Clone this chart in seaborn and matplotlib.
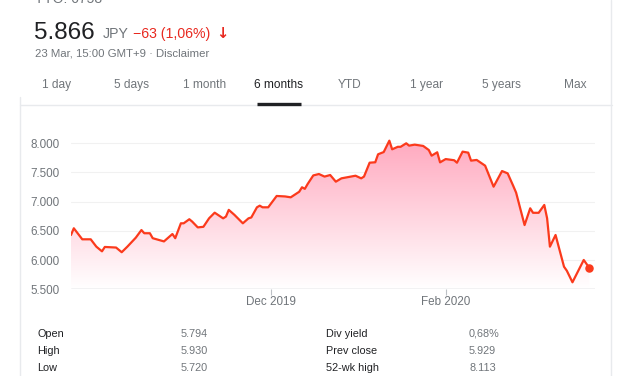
import pandas as pd
import numpy as np
import matplotlib
matplotlib.use('Agg')
import matplotlib.pyplot as plt
import matplotlib.dates as mdates
from matplotlib.colors import LinearSegmentedColormap
import seaborn as sns

W, H = 627, 376

DATES = [
    '2019-09-21', '2019-09-22', '2019-09-25', '2019-09-28', '2019-09-30',
    '2019-10-02', '2019-10-03', '2019-10-07', '2019-10-09', '2019-10-11',
    '2019-10-14', '2019-10-16', '2019-10-17', '2019-10-19', '2019-10-20',
    '2019-10-24', '2019-10-27', '2019-10-28', '2019-10-30', '2019-10-31',
    '2019-11-02', '2019-11-03', '2019-11-05', '2019-11-07', '2019-11-09',
    '2019-11-11', '2019-11-14', '2019-11-15', '2019-11-16', '2019-11-18',
    '2019-11-21', '2019-11-23', '2019-11-24', '2019-11-26', '2019-11-27',
    '2019-11-28', '2019-11-30', '2019-12-03', '2019-12-06', '2019-12-08',
    '2019-12-11', '2019-12-12', '2019-12-13', '2019-12-14', '2019-12-16',
    '2019-12-18', '2019-12-20', '2019-12-22', '2019-12-24', '2019-12-26',
    '2019-12-31', '2020-01-02', '2020-01-03', '2020-01-05', '2020-01-07',
    '2020-01-08', '2020-01-10', '2020-01-12', '2020-01-13', '2020-01-15',
    '2020-01-16', '2020-01-18', '2020-01-19', '2020-01-21', '2020-01-24',
    '2020-01-26', '2020-01-27', '2020-01-29', '2020-01-30', '2020-02-01',
    '2020-02-04', '2020-02-05', '2020-02-07', '2020-02-09', '2020-02-10',
    '2020-02-12', '2020-02-15', '2020-02-18', '2020-02-21', '2020-02-23',
    '2020-02-25', '2020-02-26', '2020-02-29', '2020-03-02', '2020-03-03',
    '2020-03-05', '2020-03-07', '2020-03-08', '2020-03-09', '2020-03-11',
    '2020-03-14', '2020-03-15', '2020-03-17', '2020-03-21', '2020-03-23',
]
PRICES = [
    6430, 6545, 6356, 6356, 6230, 6150, 6225, 6215, 6135, 6230,
    6384, 6515, 6460, 6460, 6375, 6320, 6447, 6375, 6630, 6630,
    6700, 6660, 6560, 6570, 6715, 6812, 6715, 6745, 6860, 6775,
    6630, 6715, 6730, 6904, 6932, 6904, 6904, 7098, 7090, 7075,
    7170, 7247, 7220, 7303, 7450, 7474, 7430, 7457, 7343, 7400,
    7445, 7400, 7430, 7668, 7675, 7812, 7850, 8045, 7897, 7940,
    7940, 8000, 7960, 7977, 7955, 7885, 7788, 7846, 7674, 7730,
    7710, 7668, 7857, 7840, 7703, 7715, 7617, 7257, 7525, 7485,
    7268, 7155, 6600, 6887, 6810, 6810, 6944, 6716, 6230, 6430,
    5887, 5818, 5620, 6002, 5866,
]

Y_TICKS = [5500, 6000, 6500, 7000, 7500, 8000]
X_TICKS = ['2019-12-01', '2020-02-01']
X_TICK_LABELS = ['Dec 2019', 'Feb 2020']

TABS = ['1 day', '5 days', '1 month', '6 months', 'YTD', '1 year', '5 years', 'Max']
TAB_X = [57, 131, 205, 279, 350, 427, 501, 575]
ACTIVE_TAB = '6 months'

STATS_LEFT = [('Open', '5.794'), ('High', '5.930'), ('Low', '5.720')]
STATS_RIGHT = [('Div yield', '0,68%'), ('Prev close', '5.929'), ('52-wk high', '8.113')]

RED = '#e8281f'
LINE = '#fb3a1c'
GRAY = '#70757a'
DARK = '#202124'

df = pd.DataFrame({'date': pd.to_datetime(DATES), 'price': PRICES})

sns.set_theme(style='white')
plt.rcParams['font.family'] = ['Liberation Sans', 'DejaVu Sans']

fig = plt.figure(figsize=(W / 100, H / 100), dpi=100)
fig.patch.set_facecolor('white')


def fx(px):
    return px / W


def fy(py):
    return 1 - py / H


# chart area: x 71..595 px, y 5500 at 289.3 px, 8250 at 128.7 px
ax = fig.add_axes([fx(71), fy(289.3), fx(595 - 71), (289.3 - 128.7) / H])
ax.set_xlim(pd.Timestamp('2019-09-21'), pd.Timestamp('2020-03-25'))
ax.set_ylim(5500, 8250)

# gradient fill below the line
pink = LinearSegmentedColormap.from_list('pink', ['#ffffff', '#ffa9bf'])
x0, x1 = mdates.date2num(ax.get_xlim()[0]), mdates.date2num(ax.get_xlim()[1])
x0, x1 = ax.get_xlim()
grad = np.linspace(0, 1, 256).reshape(-1, 1)
img = ax.imshow(grad, extent=[x0, x1, 5500, 8045], origin='lower', cmap=pink,
                aspect='auto', zorder=1)
poly = ax.fill_between(df['date'], df['price'], 5500, facecolor='none',
                       edgecolor='none')
img.set_clip_path(poly.get_paths()[0], transform=ax.transData)
ax.set_xlim(x0, x1)
ax.set_ylim(5500, 8250)

sns.lineplot(data=df, x='date', y='price', color=LINE, linewidth=1.6, ax=ax,
             zorder=3)
ax.scatter(df['date'].iloc[-1:], df['price'].iloc[-1:], s=26, color=LINE,
           zorder=4)

for y in Y_TICKS[1:]:
    ax.axhline(y, color='#f1f1f1', linewidth=0.8, zorder=0)
ax.axhline(5500, color='#bdc1c6', linewidth=1.0, zorder=2)

ax.set_yticks(Y_TICKS)
ax.set_yticklabels([f'{v // 1000}.{v % 1000:03d}' for v in Y_TICKS])
ax.set_xticks(pd.to_datetime(X_TICKS))
ax.set_xticklabels(X_TICK_LABELS)
ax.tick_params(axis='y', length=0, pad=8, labelsize=8.4, labelcolor=GRAY)
ax.tick_params(axis='x', length=4, width=0.8, color='#bdc1c6', pad=1,
               labelsize=8.4, labelcolor=GRAY, bottom=True)
ax.set_xlabel('')
ax.set_ylabel('')
for s in ax.spines.values():
    s.set_visible(False)
ax.grid(False)

# header
fig.text(fx(35), fy(3), 'TYO: 6758', fontsize=10, color=GRAY, va='baseline')
fig.text(fx(34), fy(39), '5.866', fontsize=17.5, color=DARK, va='baseline')
fig.text(fx(103), fy(38), 'JPY', fontsize=10.2, color=GRAY, va='baseline')
fig.text(fx(133), fy(38), '\u221263 (1,06%)', fontsize=10.2, color=RED,
         va='baseline')
fig.text(fx(216), fy(38), '\u2193', fontsize=10.5, color=RED, va='baseline',
         fontweight='bold', family=['DejaVu Sans'])
fig.text(fx(35), fy(56), '23 Mar, 15:00 GMT+9 \u00b7 Disclaimer', fontsize=8.2,
         color=GRAY, va='baseline')

# tabs
for name, x in zip(TABS, TAB_X):
    active = name == ACTIVE_TAB
    fig.text(fx(x), fy(88), name, fontsize=8.6, ha='center', va='baseline',
             color=DARK if active else GRAY)
fig.add_artist(plt.Line2D([fx(20), fx(612)], [fy(105), fy(105)],
                          color='#e8eaed', linewidth=1))
fig.add_artist(plt.Line2D([fx(257), fx(301)], [fy(104), fy(104)],
                          color=DARK, linewidth=2.4, solid_capstyle='butt'))

# card borders
fig.add_artist(plt.Line2D([fx(20), fx(20)], [fy(97), fy(376)],
                          color='#e8eaed', linewidth=1))
fig.add_artist(plt.Line2D([fx(611), fx(611)], [fy(0), fy(376)],
                          color='#e8eaed', linewidth=1))

# stats table
for i, ((l1, v1), (l2, v2)) in enumerate(zip(STATS_LEFT, STATS_RIGHT)):
    yy = fy(337 + i * 17)
    fig.text(fx(37), yy, l1, fontsize=7.8, color=DARK, va='baseline')
    fig.text(fx(181), yy, v1, fontsize=7.8, color=GRAY, va='baseline')
    fig.text(fx(326), yy, l2, fontsize=7.8, color=DARK, va='baseline')
    fig.text(fx(469), yy, v2, fontsize=7.8, color=GRAY, va='baseline')

fig.savefig('out.png', dpi=100)
